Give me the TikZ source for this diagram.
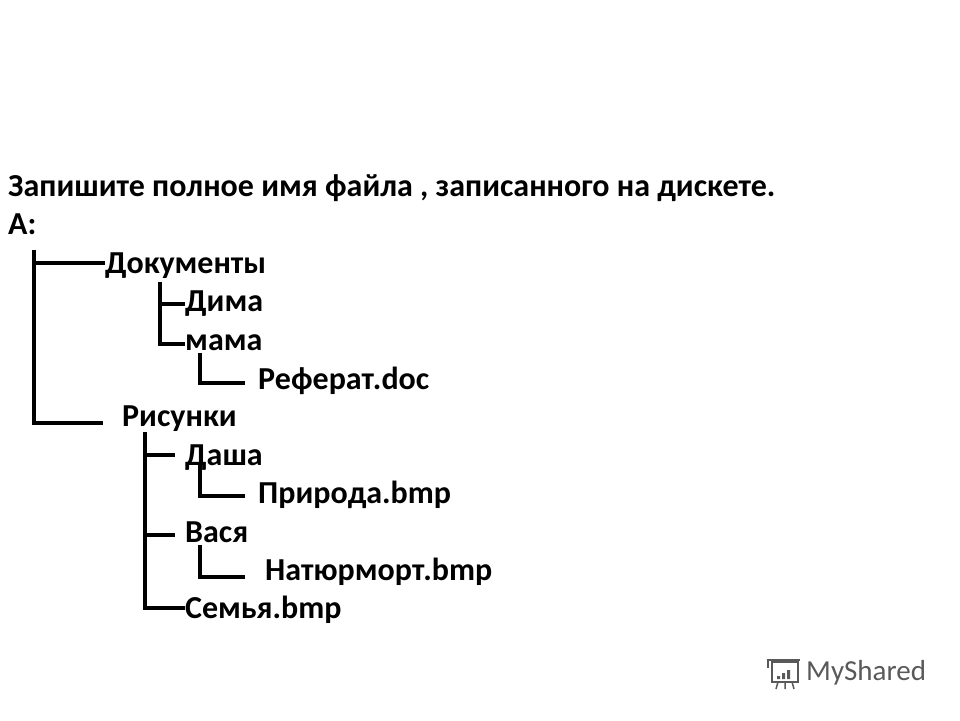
\documentclass[tikz,border=0pt]{standalone}
\usepackage{fontspec}
\setmainfont{Carlito}
\begin{document}
\begin{tikzpicture}[x=1pt,y=-1pt,
 t/.style={anchor=base west,inner sep=0pt,font=\fontsize{32}{36}\selectfont\bfseries},
 ln/.style={line width=4pt}]
\useasboundingbox (0,0) rectangle (960,720);
\node[t] (title) at (8,196) {Запишите полное имя файла , записанного на дискете.};
\node[t] (a) at (8,234) {A:};
\node[t] (dok) at (105,273) {Документы};
\node[t] (dima) at (185,311) {Дима};
\node[t] (mama) at (185,350) {мама};
\node[t] (ref) at (258,389) {Реферат.doc};
\node[t] (ris) at (122,426) {Рисунки};
\node[t] (dasha) at (185,465) {Даша};
\node[t] (prir) at (258,503) {Природа.bmp};
\node[t] (vasya) at (185,542) {Вася};
\node[t] (nat) at (265,580) {Натюрморт.bmp};
\node[t] (sem) at (185,618) {Семья.bmp};
\draw[ln] (34,250) -- (34,423) -- (103,423);
\draw[ln] (34,263) -- (dok.west|-0,263);
\draw[ln] (160,282) -- (160,344) -- (mama.west|-0,344);
\draw[ln] (160,304) -- (dima.west|-0,304);
\draw[ln] (200,353) -- (200,383) -- (245,383);
\draw[ln] (145,432) -- (145,608) -- (sem.west|-0,608);
\draw[ln] (145,455) -- (175,455);
\draw[ln] (145,535) -- (175,535);
\draw[ln] (200,462) -- (200,496) -- (245,496);
\draw[ln] (200,545) -- (200,577) -- (245,577);
% logo
\node[anchor=west,inner sep=0pt,text=black!65,font=\fontsize{29}{32}\selectfont] (logo) at (806,673) {MyShared};
\draw[black!65,line width=1.5pt] (772,662) rectangle (798,682);
\draw[black!65,line width=1.5pt] (768,668) -- (768,660) -- (800,660);
\draw[black!65,line width=1.5pt] (778,682) -- (776,689) (785,682) -- (785,689) (792,682) -- (794,689);
\fill[black!65] (777,676) rectangle (780,679) (782,673) rectangle (785,679) (787,670) rectangle (790,679);
\end{tikzpicture}
\end{document}
